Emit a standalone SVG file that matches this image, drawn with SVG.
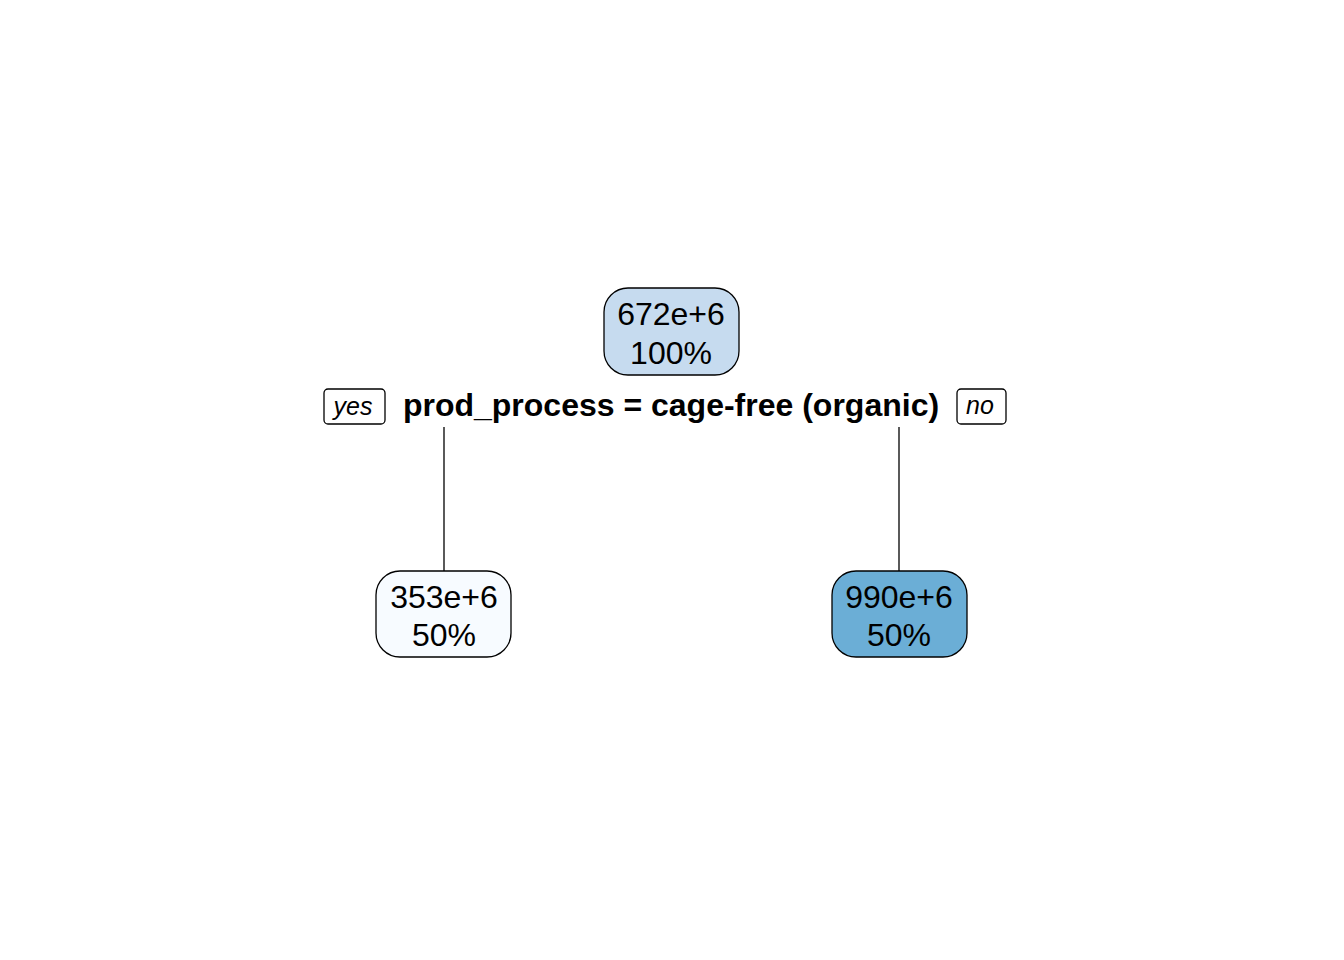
<svg xmlns="http://www.w3.org/2000/svg" width="1344" height="960" viewBox="0 0 1344 960">
<style>
.box{stroke:#000;stroke-width:1.3}
.t{font-family:"Liberation Sans",Arial,sans-serif;font-size:32px;text-anchor:middle;fill:#000}
.lbl{font-family:"Liberation Sans",Arial,sans-serif;font-size:32px;font-weight:bold;text-anchor:middle;fill:#000}
.yn{font-family:"Liberation Sans",Arial,sans-serif;font-size:25px;font-style:italic;text-anchor:middle;fill:#000}
.ynb{fill:#fff;stroke:#000;stroke-width:1.3}
.edge{stroke:#000;stroke-width:1.3;fill:none}
</style>
<rect width="1344" height="960" fill="#fff"/>
<g id="connectors">
<line class="edge" x1="444" y1="427" x2="444" y2="571"/>
<line class="edge" x1="899" y1="427" x2="899" y2="571"/>
</g>
<g id="root">
<rect class="box" x="604" y="288" width="135" height="87" rx="24" fill="#c6dbef"/>
<text class="t" x="671" y="325">672e+6</text>
<text class="t" x="671" y="364">100%</text>
</g>
<g id="split">
<text class="lbl" x="671" y="416">prod_process = cage-free (organic)</text>
<rect class="ynb" x="324" y="389" width="61" height="35" rx="4"/>
<text class="yn" x="353" y="415">yes</text>
<rect class="ynb" x="957" y="389" width="49" height="35" rx="4"/>
<text class="yn" x="980" y="414">no</text>
</g>
<g id="left">
<rect class="box" x="376" y="571" width="135" height="86" rx="24" fill="#f7fbff"/>
<text class="t" x="444" y="608">353e+6</text>
<text class="t" x="444" y="646">50%</text>
</g>
<g id="right">
<rect class="box" x="832" y="571" width="135" height="86" rx="24" fill="#6baed6"/>
<text class="t" x="899" y="608">990e+6</text>
<text class="t" x="899" y="646">50%</text>
</g>
</svg>
